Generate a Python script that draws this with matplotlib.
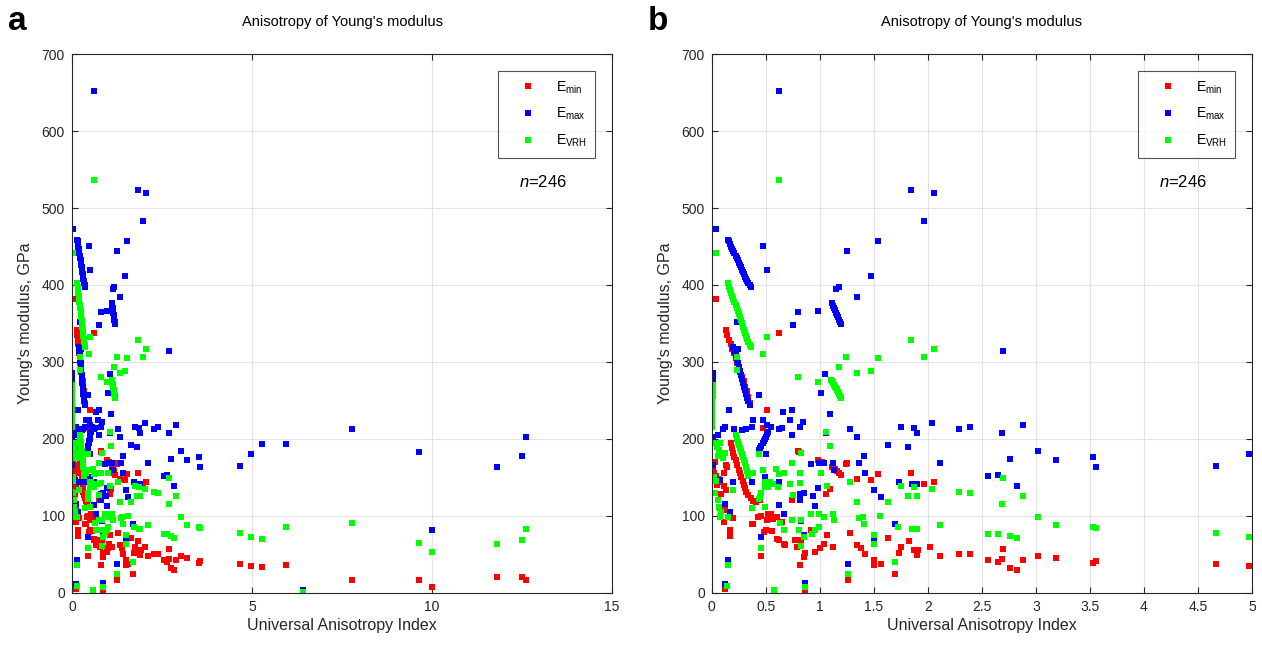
import matplotlib.pyplot as plt

plt.rcParams['font.family'] = ['Liberation Sans', 'DejaVu Sans']
plt.rcParams['mathtext.fontset'] = 'custom'
plt.rcParams['mathtext.rm'] = 'Liberation Sans'
plt.rcParams['mathtext.it'] = 'Liberation Sans:italic'

# Emin (red) -- universal anisotropy index vs modulus, GPa
x_min = [0.04, 0.62, 0.51, 0.47,
         0.13, 0.145, 0.16, 0.175, 0.19, 0.205, 0.22, 0.235, 0.25, 0.265, 0.28, 0.295, 0.31, 0.325, 0.34, 0.35,
         0.02, 0.04, 0.08, 0.11, 0.13, 0.14, 0.13, 0.11, 0.06, 0.09, 0.07, 0.12, 0.11, 0.20, 0.17, 0.17, 0.20, 0.08, 0.01, 0.05, 0.03,
         0.18, 0.19, 0.20, 0.21, 0.22, 0.235, 0.25, 0.26, 0.27, 0.285, 0.30, 0.31, 0.32, 0.34, 0.36, 0.38,
         0.37, 0.45, 0.41, 0.51, 0.55, 0.60, 0.65, 0.50, 0.48, 0.46, 0.62, 0.67, 0.77, 0.79, 0.83, 0.82, 0.85, 0.86,
         0.92, 0.96, 1.00, 1.04, 1.07, 1.12, 1.28, 1.34, 1.38, 1.42, 1.50, 1.50, 1.57, 1.63, 1.70, 1.75, 1.83, 1.87,
         1.90, 2.02, 2.11, 2.29, 2.39, 1.26, 0.75, 0.74, 1.06, 1.09, 0.81, 1.25, 0.80, 0.98, 1.02, 1.24, 1.34, 1.47,
         1.54, 1.84, 1.96, 2.06, 1.11, 1.14, 1.16, 1.18, 1.20, 0.43, 0.46, 0.52, 0.57, 0.38, 0.56, 0.60, 0.68,
         0.86, 0.58, 0.12, 1.73, 1.91,
         2.56, 2.65, 2.69, 2.70, 2.76, 2.83, 2.88, 3.02, 3.19, 3.53, 3.56, 4.67, 4.97, 5.27, 5.94, 6.43,
         7.78, 9.65, 10.0, 11.81, 12.49, 12.62]
e_min = [382, 337, 237, 214,
         341, 335, 329, 323, 317, 311, 305, 299, 293, 287, 281, 275, 268, 262, 254, 247,
         155, 152, 144, 139, 134, 164, 166, 155, 148, 128, 112, 107, 92, 97, 81, 74, 133, 110, 160, 140, 170,
         195, 188, 182, 177, 172, 166, 160, 155, 150, 145, 140, 136, 131, 127, 123, 119,
         90, 120, 118, 94, 103, 99, 92, 81, 79, 48, 68, 63, 69, 60, 68, 36, 47, 52,
         81, 53, 58, 63, 75, 60, 78, 62, 58, 51, 42, 36, 38, 71, 25, 59, 67, 55,
         49, 59, 48, 50, 50, 17, 127, 120, 129, 135, 183, 168, 184, 173, 170, 167, 148, 146,
         154, 155, 141, 144, 164, 161, 158, 155, 153, 98, 100, 102, 96, 90, 80, 70, 62,
         1, 2, 5, 52, 55,
         42, 40, 44, 57, 32, 29, 43, 48, 45, 39, 41, 37, 35, 34, 36, 1,
         17, 16, 7, 20, 21, 17]

# Emax (blue)
x_max = [0.04, 0.62, 0.47, 0.51, 1.25, 1.54, 1.84, 2.06, 1.96, 1.47, 1.15, 1.18, 1.34, 0.80, 0.98, 0.75,
         0.24, 0.23, 0.44, 0.16, 1.05, 1.01, 1.09, 1.28, 1.34, 1.75, 1.87, 1.90, 2.04, 2.29, 2.39, 1.63,
         1.82, 1.41, 1.36, 2.11, 1.06, 1.42, 1.50, 1.57, 1.73, 1.85, 1.90, 1.70, 1.50, 1.26, 0.86, 0.92,
         0.99, 1.04, 1.12, 1.13, 0.98, 0.96, 0.85, 0.82, 0.62, 0.67, 0.85, 0.46, 0.62, 0.49, 0.37, 0.20,
         0.08, 0.01, 0.15, 0.12, 0.58, 0.12, 0.17, 0.82, 0.94, 0.83,
         0.01, 0.06, 0.10, 0.12, 0.21, 0.28, 0.32, 0.37, 0.38, 0.47, 0.51, 0.55, 0.62, 0.65, 0.66, 0.74,
         0.72, 0.74, 0.82, 0.84,
         0.52, 0.51, 0.50, 0.49, 0.48, 0.47, 0.46, 0.45, 0.44, 0.50,
         0.01, 0.01, 0.01, 0.01, 0.01, 0.01, 0.01,
         0.15, 0.16, 0.17, 0.18, 0.19, 0.20, 0.21, 0.22, 0.23, 0.24, 0.25, 0.26, 0.27, 0.28, 0.29, 0.30,
         0.31, 0.32, 0.33, 0.34, 0.35, 0.36,
         0.20, 0.21, 0.22, 0.23, 0.24, 0.25, 0.26, 0.27, 0.28, 0.29, 0.30, 0.31, 0.32, 0.33, 0.34, 0.35,
         1.11, 1.12, 1.13, 1.14, 1.15, 1.16, 1.17, 1.18, 1.19, 1.20,
         2.70, 2.69, 2.88, 2.76, 2.56, 2.65, 2.83, 3.02, 3.19, 3.53, 3.56, 4.67, 4.97, 5.27, 5.94, 6.43,
         7.78, 9.65, 10.0, 11.81, 12.49, 12.62]
e_max = [473, 652, 451, 419, 444, 457, 524, 519, 483, 412, 395, 398, 384, 365, 366, 348,
         317, 352, 257, 237, 284, 260, 232, 213, 203, 216, 214, 208, 220, 213, 216, 192,
         190, 178, 169, 169, 207, 155, 133, 125, 144, 142, 142, 90, 68, 38, 13, 167,
         169, 168, 169, 160, 136, 113, 130, 120, 114, 102, 75, 73, 144, 151, 144, 144,
         146, 166, 42, 12, 4, 116, 105, 129, 126, 93,
         203, 205, 213, 216, 213, 211, 213, 216, 224, 225, 218, 216, 213, 214, 235, 237,
         224, 205, 216, 222,
         209, 206, 203, 200, 197, 194, 191, 188, 185, 180,
         261, 265, 269, 273, 277, 281, 285,
         459, 457, 453, 450, 447, 444, 441, 438, 435, 432, 429, 426, 423, 420, 417, 414,
         411, 408, 405, 403, 400, 398,
         320, 314, 309, 303, 298, 293, 288, 283, 278, 273, 268, 263, 258, 253, 249, 244,
         376, 373, 370, 367, 364, 361, 358, 355, 352, 349,
         314, 207, 218, 174, 152, 153, 139, 184, 172, 176, 164, 165, 180, 193, 193, 3,
         213, 183, 81, 163, 178, 203]

# EVRH (green)
x_vrh = [0.04, 0.62, 0.51, 0.47, 0.80, 0.98, 1.24, 1.34, 1.47, 1.54, 1.84, 1.96, 2.06, 1.18, 1.06, 1.09,
         0.83, 0.82, 0.74, 0.59, 0.62, 0.67, 0.47, 0.44, 0.38, 0.72, 0.75, 0.82, 1.01, 1.07, 1.28, 1.34,
         1.63, 1.56, 1.75, 1.82, 1.90, 1.87, 2.04, 2.29, 2.39, 1.72, 1.85, 1.90, 2.11, 1.70, 1.50, 1.50,
         1.41, 1.36, 1.40, 1.26, 1.13, 1.12, 1.04, 0.99, 0.92, 0.99, 0.96, 0.93, 0.83, 0.81, 0.85, 0.83,
         0.74, 0.63, 0.67, 0.49, 0.37, 0.46, 0.15, 0.14, 0.58, 0.86, 0.20, 0.23, 0.23,
         0.49, 0.54, 0.57, 0.61, 0.46, 0.45, 0.44, 0.49, 0.52,
         0.05, 0.07, 0.09, 0.06, 0.10, 0.12, 0.04, 0.08, 0.03, 0.06, 0.07, 0.09, 0.08, 0.15, 0.02, 0.04,
         0.22, 0.23, 0.24, 0.25, 0.26, 0.27, 0.28, 0.29, 0.30, 0.31, 0.32, 0.33, 0.34,
         0.0, 0.0, 0.0, 0.0, 0.005, 0.005, 0.005, 0.005, 0.01, 0.01, 0.01, 0.01,
         0.15, 0.16, 0.17, 0.18, 0.19, 0.20, 0.21, 0.22, 0.23, 0.24, 0.25, 0.26, 0.27, 0.28, 0.29, 0.30,
         0.31, 0.32, 0.33, 0.34, 0.35, 0.36,
         1.10, 1.11, 1.12, 1.13, 1.14, 1.15, 1.16, 1.17, 1.18, 1.19, 1.20,
         2.70, 2.69, 2.88, 2.56, 2.65, 2.76, 2.83, 3.02, 3.19, 3.53, 3.56, 4.67, 4.97, 5.27, 5.94, 6.43,
         7.78, 9.65, 10.0, 11.81, 12.49, 12.62]
e_vrh = [441, 536, 333, 310, 280, 274, 307, 286, 288, 305, 329, 307, 317, 294, 209, 191,
         181, 156, 169, 161, 154, 155, 160, 180, 155, 141, 127, 143, 156, 139, 144, 118,
         118, 100, 139, 126, 126, 138, 135, 131, 130, 86, 83, 83, 88, 40, 75, 63,
         90, 97, 99, 24, 94, 103, 98, 103, 103, 86, 81, 77, 94, 81, 73, 61,
         94, 91, 81, 112, 110, 58, 36, 9, 4, 7, 133, 306, 290,
         144, 144, 141, 138, 130, 125, 122, 138, 138,
         190, 185, 180, 178, 175, 182, 195, 195, 130, 120, 112, 105, 98, 99, 150, 145,
         205, 200, 196, 192, 188, 184, 180, 176, 172, 168, 164, 158, 152,
         216, 221, 226, 231, 236, 241, 246, 251, 256, 261, 266, 270,
         402, 398, 394, 390, 386, 382, 378, 374, 370, 366, 362, 358, 354, 350, 346, 342,
         338, 334, 330, 326, 322, 319,
         277, 275, 273, 270, 268, 266, 263, 261, 258, 256, 253,
         149, 115, 126, 77, 77, 74, 71, 99, 88, 86, 84, 78, 73, 70, 85, 1,
         91, 65, 53, 64, 68, 83]

panels = [('a', 0.057, [0, 15], [0, 5, 10, 15], ['0', '5', '10', '15']),
          ('b', 0.564, [0, 5], [0, 0.5, 1, 1.5, 2, 2.5, 3, 3.5, 4, 4.5, 5],
           ['0', '0.5', '1', '1.5', '2', '2.5', '3', '3.5', '4', '4.5', '5'])]

fig = plt.figure(figsize=(12.62, 6.45), dpi=100)
dark = '#262626'
ms = 4.3

for letter, left, xlim, xticks, xlabels in panels:
    ax = fig.add_axes([left, 0.081, 0.428, 0.835])
    ax.plot(x_min, e_min, 's', color='#ff0000', ms=ms, mew=0, label=r'E$_{\mathrm{min}}$')
    ax.plot(x_max, e_max, 's', color='#0000ff', ms=ms, mew=0, label=r'E$_{\mathrm{max}}$')
    ax.plot(x_vrh, e_vrh, 's', color='#00ff00', ms=ms, mew=0, label=r'E$_{\mathrm{VRH}}$')
    ax.set_xlim(xlim)
    ax.set_ylim(0, 700)
    ax.set_xticks(xticks)
    ax.set_xticklabels(xlabels)
    ax.set_yticks(range(0, 701, 100))
    ax.grid(True, color='#e3e3e3', lw=0.8)
    ax.set_axisbelow(True)
    ax.tick_params(direction='in', top=True, right=True, length=4, width=0.8,
                   colors=dark, labelsize=10, pad=5)
    for s in ax.spines.values():
        s.set_color(dark)
        s.set_linewidth(0.8)
    ax.set_xlabel('Universal Anisotropy Index', fontsize=11.5, color=dark, labelpad=3)
    ax.set_ylabel("Young's modulus, GPa", fontsize=11.5, color=dark, labelpad=6)
    ax.set_title("Anisotropy of Young's modulus", fontsize=10.5, color='black', pad=20)
    leg = ax.legend(loc='upper right', fontsize=10, frameon=True, fancybox=False,
                    borderaxespad=1.2, handletextpad=0.45, labelspacing=0.75,
                    handlelength=3.1, borderpad=0.6, markerscale=1.0)
    leg.get_frame().set_edgecolor(dark)
    leg.get_frame().set_linewidth(0.8)
    ax.text(0.873, 0.762, r'$n$=246', transform=ax.transAxes, fontsize=12,
            ha='center', va='center')
    fig.text(left - 0.051, 0.966, letter, fontsize=24, fontweight='bold', va='center')

plt.savefig('out.png', dpi=100)
